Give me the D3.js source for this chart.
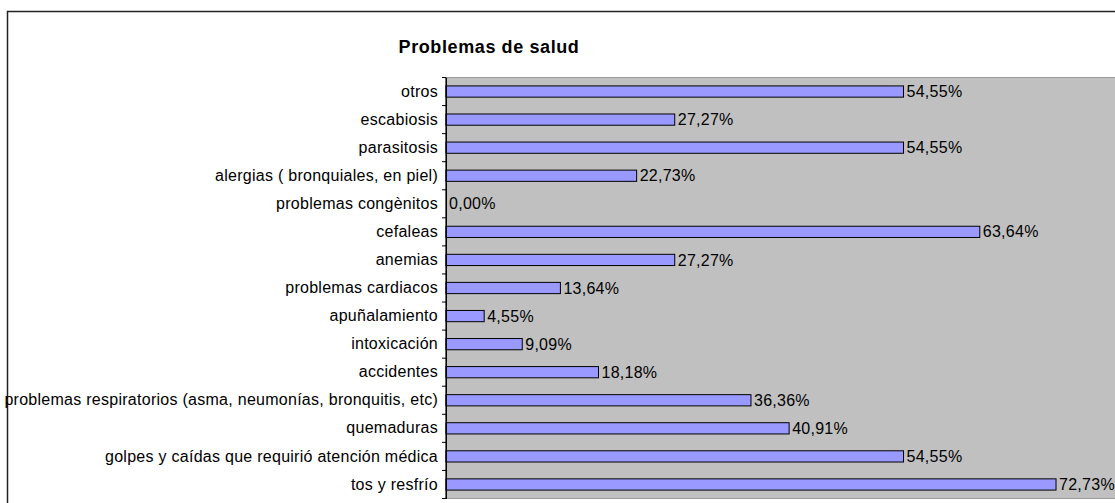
<!DOCTYPE html>
<html>
<head>
<meta charset="utf-8">
<script src="https://cdn.jsdelivr.net/npm/d3@7"></script>
<style>
  body { margin: 0; background: #fff; }
  text { font-family: "Liberation Sans", Arial, sans-serif; }
</style>
</head>
<body>
<svg id="chart"></svg>
<script>
// categories, top to bottom as drawn
let categories = [
  "otros",
  "escabiosis",
  "parasitosis",
  "alergias ( bronquiales, en piel)",
  "problemas congènitos",
  "cefaleas",
  "anemias",
  "problemas cardiacos",
  "apuñalamiento",
  "intoxicación",
  "accidentes",
  "problemas respiratorios (asma, neumonías, bronquitis, etc)",
  "quemaduras",
  "golpes y caídas que requirió atención médica",
  "tos y resfrío"
];

let values = [54.55, 27.27, 54.55, 22.73, 0, 63.64, 27.27, 13.64, 4.55, 9.09, 18.18, 36.36, 40.91, 54.55, 72.73];

let title = "Problemas de salud";

let w = 1115;
let h = 503;

let plotL = 446;
let plotR = 1117;
let plotT = 77.5;
let plotB = 498.5;

let svg = d3.select('#chart')
  .attr('width', w)
  .attr('height', h);

// outer frame (runs off the right and bottom edge)
svg.append('rect')
  .attr('x', 7.5)
  .attr('y', 11.5)
  .attr('width', w + 20)
  .attr('height', h + 20)
  .attr('fill', '#fff')
  .attr('stroke', '#222')
  .attr('stroke-width', 1.5);

let xScale = d3.scaleLinear()
  .domain([0, 80])
  .range([plotL, plotR]);

let yScale = d3.scaleBand()
  .domain(categories)
  .range([plotT, plotB])
  .paddingInner(0.6)
  .paddingOuter(0.3);

// plot area
svg.append('rect')
  .attr('x', plotL)
  .attr('y', plotT)
  .attr('width', plotR - plotL)
  .attr('height', plotB - plotT)
  .attr('fill', '#c0c0c0')
  .attr('stroke', '#9a9a9a')
  .attr('stroke-width', 1);

// bars
svg.selectAll('rect.bar')
  .data(values)
  .enter()
  .append('rect')
  .attr('class', 'bar')
  .attr('x', xScale(0))
  .attr('y', (d, i) => yScale(categories[i]))
  .attr('width', d => xScale(d) - xScale(0))
  .attr('height', yScale.bandwidth())
  .attr('fill', '#9999ff')
  .attr('stroke', '#000')
  .attr('stroke-width', 1)
  .style('display', d => d > 0 ? null : 'none');

// value labels
svg.selectAll('text.val')
  .data(values)
  .enter()
  .append('text')
  .attr('class', 'val')
  .attr('x', d => xScale(d) + 3)
  .attr('y', (d, i) => yScale(categories[i]) + yScale.bandwidth() / 2)
  .attr('dy', '0.35em')
  .attr('font-size', 16)
  .attr('letter-spacing', 0.27)
  .attr('fill', '#000')
  .text(d => d.toFixed(2).replace('.', ',') + '%');

// category axis, ticks between the categories
let yAxis = d3.axisLeft(yScale).tickSize(0).tickPadding(8);
let gy = svg.append('g')
  .attr('transform', `translate(${plotL}, 0)`)
  .call(yAxis);
gy.select('.domain').attr('stroke', '#000');
gy.selectAll('text')
  .attr('font-size', 16)
  .attr('letter-spacing', 0.27)
  .attr('fill', '#000')
  .attr('font-family', '"Liberation Sans", Arial, sans-serif');

let bounds = d3.range(categories.length + 1).map(i => plotT + i * (plotB - plotT) / categories.length);
svg.selectAll('line.tick')
  .data(bounds)
  .enter()
  .append('line')
  .attr('x1', plotL - 4)
  .attr('x2', plotL)
  .attr('y1', d => d)
  .attr('y2', d => d)
  .attr('stroke', '#000');

svg.append('line')
  .attr('x1', plotL)
  .attr('x2', plotL)
  .attr('y1', plotT)
  .attr('y2', plotB)
  .attr('stroke', '#000');

// title
svg.append('text')
  .attr('x', 489)
  .attr('y', 53)
  .attr('text-anchor', 'middle')
  .attr('font-size', 18)
  .attr('letter-spacing', 0.6)
  .attr('font-weight', 'bold')
  .text(title);
</script>
</body>
</html>
